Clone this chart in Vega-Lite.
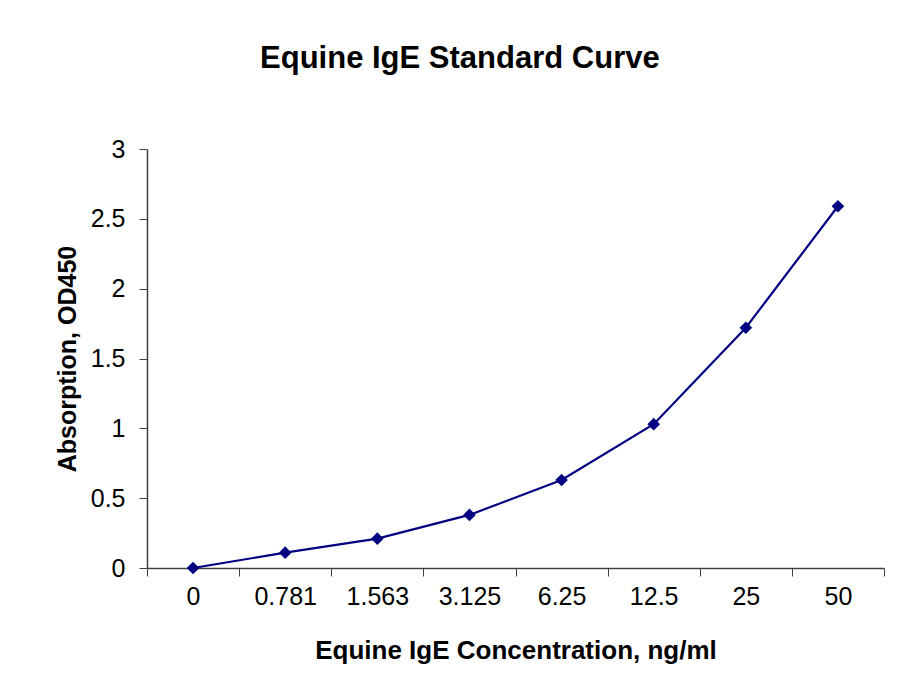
{
  "$schema": "https://vega.github.io/schema/vega-lite/v6.json",
  "width": 737,
  "height": 419,
  "autosize": {"type": "none"},
  "padding": {"left": 147, "top": 149, "right": 18, "bottom": 132},
  "background": "white",
  "config": {
    "font": "Liberation Sans",
    "view": {"stroke": null}
  },
  "title": {
    "text": "Equine IgE Standard Curve",
    "font": "Liberation Sans",
    "fontSize": 31,
    "fontWeight": "bold",
    "color": "black",
    "anchor": "middle",
    "frame": "bounds",
    "dx": -10,
    "offset": 62
  },
  "data": {
    "values": [
      {"conc": "0", "od": 0.0},
      {"conc": "0.781", "od": 0.11},
      {"conc": "1.563", "od": 0.21},
      {"conc": "3.125", "od": 0.38},
      {"conc": "6.25", "od": 0.63},
      {"conc": "12.5", "od": 1.03},
      {"conc": "25", "od": 1.72},
      {"conc": "50", "od": 2.59}
    ]
  },
  "encoding": {
    "x": {
      "field": "conc",
      "type": "ordinal",
      "sort": null,
      "bandPosition": 0.5,
      "scale": {"type": "band", "paddingInner": 0, "paddingOuter": 0},
      "axis": {
        "title": "Equine IgE Concentration, ng/ml",
        "titleFont": "Liberation Sans",
        "titleFontSize": 26,
        "titleFontWeight": "bold",
        "titleColor": "black",
        "titlePadding": 28,
        "labelFont": "Liberation Sans",
        "labelFontSize": 25,
        "labelColor": "black",
        "labelAngle": 0,
        "labelPadding": 8,
        "tickBand": "extent",
        "tickSize": 8,
        "tickColor": "#404040",
        "domainColor": "#404040",
        "domainWidth": 1.5,
        "grid": false
      }
    },
    "y": {
      "field": "od",
      "type": "quantitative",
      "scale": {"domain": [0, 3], "nice": false, "zero": true},
      "axis": {
        "title": "Absorption, OD450",
        "titleFont": "Liberation Sans",
        "titleFontSize": 25,
        "titleFontWeight": "bold",
        "titleColor": "black",
        "titlePadding": 10,
        "labelFont": "Liberation Sans",
        "labelFontSize": 25,
        "labelColor": "black",
        "labelPadding": 14,
        "labelExpr": "toString(datum.value)",
        "values": [0, 0.5, 1, 1.5, 2, 2.5, 3],
        "tickSize": 8,
        "tickColor": "#404040",
        "domainColor": "#404040",
        "domainWidth": 1.5,
        "grid": false
      }
    }
  },
  "layer": [
    {"mark": {"type": "line", "color": "#000080", "strokeWidth": 2.2}},
    {"mark": {"type": "point", "shape": "diamond", "filled": true, "color": "#000080", "size": 160, "opacity": 1}}
  ]
}
